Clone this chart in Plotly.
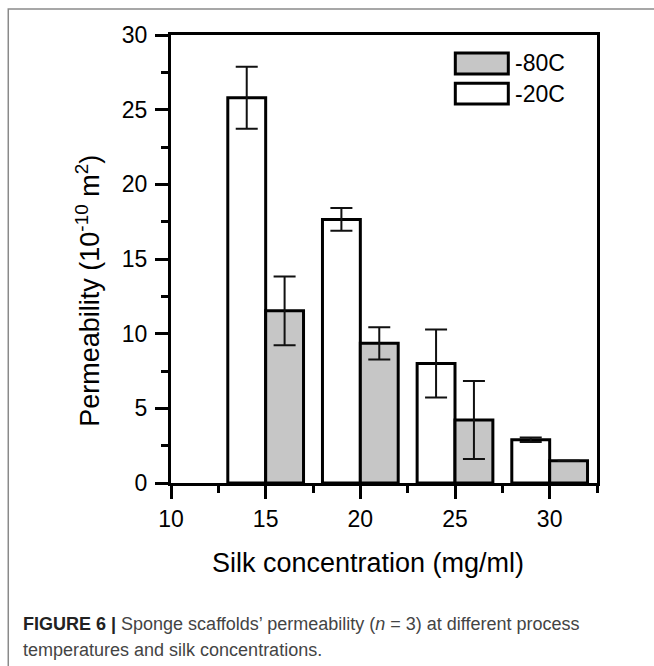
import plotly.graph_objects as go

# ---- data ----
concentrations = [15, 20, 25, 30]
perm_m20 = [25.8, 17.65, 8.0, 2.9]      # -20C (white)
err_m20 = [2.07, 0.76, 2.28, 0.15]
perm_m80 = [11.53, 9.35, 4.22, 1.49]    # -80C (gray)
err_m80 = [2.3, 1.08, 2.61, 0.0]
series_names = ["-80C", "-20C"]
x_ticks = [10, 15, 20, 25, 30]
y_ticks = [0, 5, 10, 15, 20, 25, 30]

FONT = "Liberation Sans, Arial, sans-serif"
GRAY = "#c6c6c6"

fig = go.Figure()
fig.add_trace(go.Bar(
    x=concentrations, y=perm_m20, name=series_names[1],
    offset=-2, width=2,
    marker=dict(color="white", line=dict(color="black", width=3)),
    error_y=dict(type="data", array=err_m20, visible=True,
                 color="#111", thickness=2, width=11),
    showlegend=False,
))
fig.add_trace(go.Bar(
    x=concentrations, y=perm_m80, name=series_names[0],
    offset=0, width=2,
    marker=dict(color=GRAY, line=dict(color="black", width=3)),
    error_y=dict(type="data", array=err_m80, visible=True,
                 color="#111", thickness=2, width=11),
    showlegend=False,
))

axis_common = dict(
    showline=True, linecolor="black", linewidth=3, mirror=True,
    ticks="outside", ticklen=13, tickwidth=3, tickcolor="black",
    showgrid=False, zeroline=False,
    tickfont=dict(family=FONT, size=23, color="black"),
)
fig.update_xaxes(range=[10, 32.5], tickvals=x_ticks,
                 minor=dict(ticks="outside", ticklen=7, tickwidth=3,
                            tickcolor="black", dtick=2.5, tick0=10),
                 **axis_common)
fig.update_yaxes(range=[0, 30], tickvals=y_ticks, ticklabelstandoff=3,
                 minor=dict(ticks="outside", ticklen=7, tickwidth=3,
                            tickcolor="black", dtick=2.5, tick0=0),
                 **axis_common)

shapes = []
annotations = []
# outer frame
shapes.append(dict(type="rect", xref="paper", yref="paper",
                   x0=-0.382, y0=-1.0, x1=1.5, y1=1.058,
                   line=dict(color="#8a8a8a", width=1.5), fillcolor="rgba(0,0,0,0)",
                   layer="below"))
# legend
leg = [(series_names[0], GRAY, 0.9598, 0.913), (series_names[1], "white", 0.8923, 0.8461)]
for name, col, ytop, ybot in leg:
    shapes.append(dict(type="rect", xref="paper", yref="paper",
                       x0=0.6674, x1=0.7918, y0=ybot, y1=ytop,
                       line=dict(color="black", width=3), fillcolor=col))
    annotations.append(dict(xref="paper", yref="paper", x=0.803, y=(ytop + ybot) / 2,
                            text=name, showarrow=False, xanchor="left", yanchor="middle",
                            font=dict(family=FONT, size=23, color="black")))
# axis titles
annotations.append(dict(xref="paper", yref="paper", x=0.463, y=-0.1796,
                        text="Silk concentration (mg/ml)", showarrow=False,
                        xanchor="center", yanchor="middle",
                        font=dict(family=FONT, size=27, color="black")))
annotations.append(dict(xref="paper", yref="paper", x=-0.194, y=0.43,
                        text="Permeability (10<sup>-10</sup> m<sup>2</sup>)", showarrow=False,
                        textangle=-90, xanchor="center", yanchor="middle",
                        font=dict(family=FONT, size=27, color="black")))
# caption
CAP_FONT = "Liberation Sans, Arial, sans-serif"
annotations.append(dict(xref="paper", yref="paper", x=-0.351, y=-0.3138,
                        text="<span style='color:#222'><b>FIGURE 6 |</b></span> Sponge scaffolds’ permeability (<i>n</i> = 3) at different process",
                        showarrow=False, xanchor="left", yanchor="middle",
                        font=dict(family=CAP_FONT, size=18, color="#444")))
annotations.append(dict(xref="paper", yref="paper", x=-0.351, y=-0.3718,
                        text="temperatures and silk concentrations.",
                        showarrow=False, xanchor="left", yanchor="middle",
                        font=dict(family=CAP_FONT, size=18, color="#444")))

fig.update_layout(
    width=654, height=666,
    margin=dict(l=171, r=57, t=35, b=183),
    plot_bgcolor="white", paper_bgcolor="white",
    barmode="overlay", showlegend=False,
    shapes=shapes, annotations=annotations,
)
fig.write_html("out.html")
